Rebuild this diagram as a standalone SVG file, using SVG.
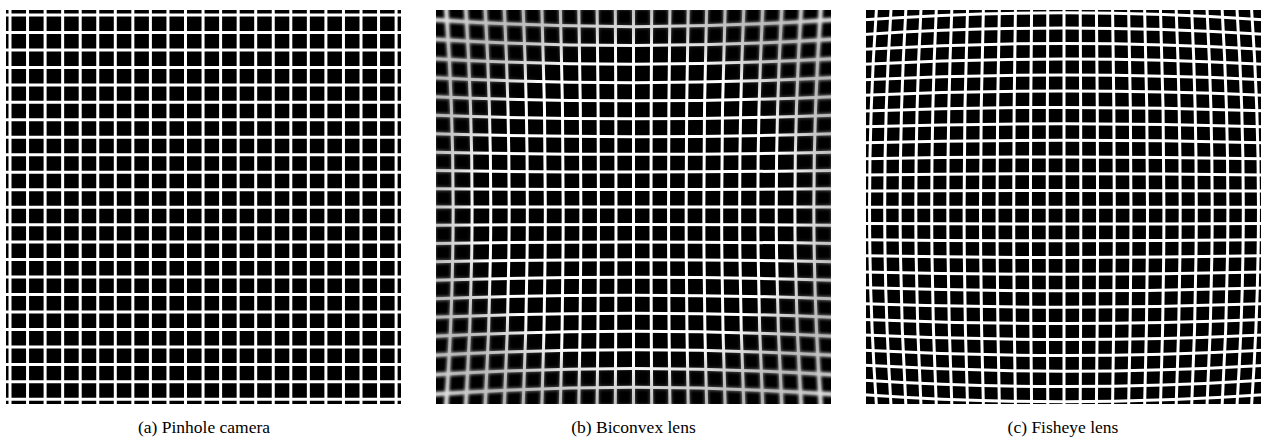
<svg xmlns="http://www.w3.org/2000/svg" xmlns:xlink="http://www.w3.org/1999/xlink" width="1261" height="446" viewBox="0 0 1261 446">
<style>
.bg{fill:#000}
.ln{fill:none;stroke:#fff;stroke-width:3}
.lnw{fill:none;stroke:#fff;stroke-width:4.5}
.cap{font-family:"Liberation Serif","Times New Roman",serif;font-size:17.5px;fill:#000;text-anchor:middle}
</style>
<defs>
<clipPath id="clipA"><rect x="6" y="10" width="395" height="394"/></clipPath>
<clipPath id="clipB"><rect x="436" y="10" width="395" height="394"/></clipPath>
<clipPath id="clipC"><rect x="866" y="10" width="395" height="394"/></clipPath>
<filter id="blurB" x="-10%" y="-10%" width="120%" height="120%"><feGaussianBlur stdDeviation="1.5"/></filter>
<filter id="blurS" x="-10%" y="-10%" width="120%" height="120%"><feGaussianBlur stdDeviation="0.45"/></filter>
<radialGradient id="gSharp" cx="0.5" cy="0.5" r="0.72">
<stop offset="0" stop-color="#fff"/><stop offset="0.55" stop-color="#fff"/><stop offset="1" stop-color="#000"/></radialGradient>
<radialGradient id="gBlur" cx="0.5" cy="0.5" r="0.72">
<stop offset="0" stop-color="#000"/><stop offset="0.55" stop-color="#000"/><stop offset="1" stop-color="#fff"/></radialGradient>
<mask id="mSharp" maskUnits="userSpaceOnUse" x="436" y="10" width="395" height="394"><rect x="436" y="10" width="395" height="394" fill="url(#gSharp)"/></mask>
<mask id="mBlur" maskUnits="userSpaceOnUse" x="436" y="10" width="395" height="394"><rect x="436" y="10" width="395" height="394" fill="url(#gBlur)"/></mask>
<path id="vBpos" d="M18.205,-200Q16.805,0 18.205,200M36.443,-200Q33.643,0 36.443,200M54.745,-200Q50.545,0 54.745,200M73.143,-200Q67.543,0 73.143,200M91.67,-200Q84.67,0 91.67,200M110.358,-200Q101.958,0 110.358,200M129.238,-200Q119.438,0 129.238,200M148.344,-200Q137.144,0 148.344,200M167.707,-200Q155.107,0 167.707,200M187.359,-200Q173.359,0 187.359,200M207.333,-200Q191.933,0 207.333,200"/>
<g id="vB"><path d="M0,-200V200"/><use xlink:href="#vBpos"/><use xlink:href="#vBpos" transform="scale(-1,1)"/></g>
<g id="gridB"><use xlink:href="#vB"/><use xlink:href="#vB" transform="rotate(90)"/></g>
<path id="vCpos" d="M16.21,-200Q17.38,0 16.21,200M32.4,-200Q34.74,0 32.4,200M48.54,-200Q52.04,0 48.54,200M64.6,-200Q69.28,0 64.6,200M80.56,-200Q86.41,0 80.56,200M96.4,-200Q103.42,0 96.4,200M112.09,-200Q120.28,0 112.09,200M127.61,-200Q136.97,0 127.61,200M142.93,-200Q153.46,0 142.93,200M158.03,-200Q169.72,0 158.03,200M172.88,-200Q185.74,0 172.88,200M187.46,-200Q201.49,0 187.46,200"/>
<g id="vC"><path d="M0,-200V200"/><use xlink:href="#vCpos"/><use xlink:href="#vCpos" transform="scale(-1,1)"/></g>
<g id="gridC"><use xlink:href="#vC"/><use xlink:href="#vC" transform="rotate(90)"/></g>
</defs>

<g id="panel-a" clip-path="url(#clipA)">
<rect class="bg" x="6" y="10" width="395" height="394"/>
<path class="ln" filter="url(#blurS)" d="M10,0V420M27.55,0V420M45.1,0V420M62.65,0V420M80.2,0V420M97.75,0V420M115.3,0V420M132.85,0V420M150.4,0V420M167.95,0V420M185.5,0V420M203.05,0V420M220.6,0V420M238.15,0V420M255.7,0V420M273.25,0V420M290.8,0V420M308.35,0V420M325.9,0V420M343.45,0V420M361,0V420M378.55,0V420M396.1,0V420M0,15H410M0,32.47H410M0,49.94H410M0,67.41H410M0,84.88H410M0,102.35H410M0,119.82H410M0,137.29H410M0,154.76H410M0,172.23H410M0,189.7H410M0,207.17H410M0,224.64H410M0,242.11H410M0,259.58H410M0,277.05H410M0,294.52H410M0,311.99H410M0,329.46H410M0,346.93H410M0,364.4H410M0,381.87H410M0,399.34H410"/>
</g>

<g id="panel-b" clip-path="url(#clipB)">
<rect class="bg" x="436" y="10" width="395" height="394"/>
<g mask="url(#mBlur)"><g filter="url(#blurB)"><use class="lnw" xlink:href="#gridB" transform="translate(633.5,207)"/></g></g>
<g mask="url(#mSharp)"><g filter="url(#blurS)"><use class="ln" xlink:href="#gridB" transform="translate(633.5,207)"/></g></g>
</g>

<g id="panel-c" clip-path="url(#clipC)">
<rect class="bg" x="866" y="10" width="395" height="394"/>
<g filter="url(#blurS)"><use class="ln" xlink:href="#gridC" transform="translate(1064,207.3)"/></g>
</g>

<g id="captions">
<text class="cap" x="204" y="433">(a) Pinhole camera</text>
<text class="cap" x="633.5" y="433">(b) Biconvex lens</text>
<text class="cap" x="1063" y="433">(c) Fisheye lens</text>
</g>
</svg>
